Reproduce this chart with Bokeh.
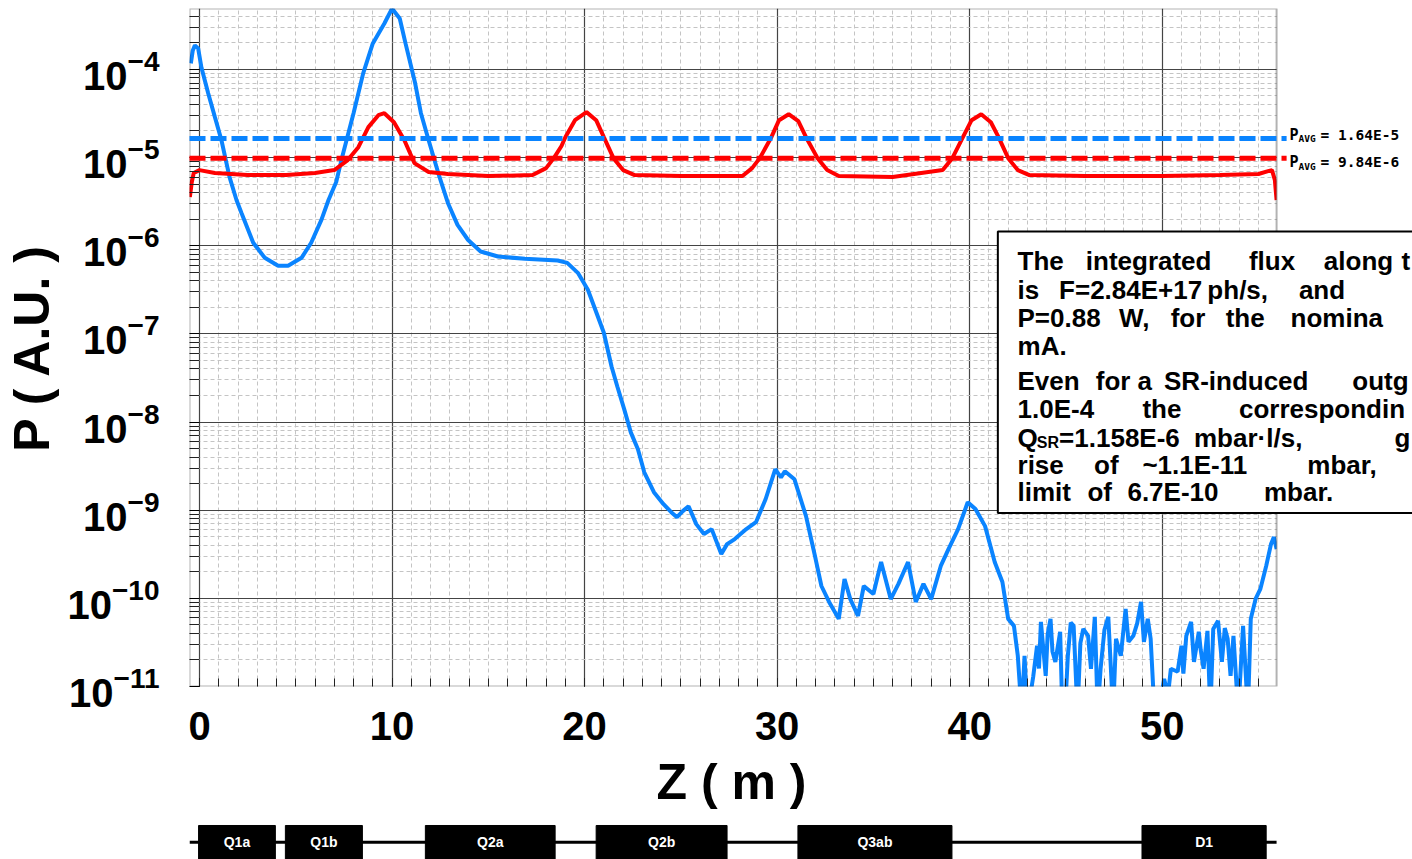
from bokeh.plotting import figure
from bokeh.models import (Range1d, FixedTicker, LogTickFormatter,
                          Label, BoxAnnotation)
from bokeh.layouts import column
from bokeh.embed import file_html
from bokeh.resources import INLINE
from bokeh.core.properties import value

# ---------------- data ----------------
blue_z = [-0.45, -0.35, -0.24, -0.07, 0.1, 0.45, 0.8, 1.14, 1.56, 1.92, 2.18, 2.79, 3.39, 4.08, 4.6,
          5.3, 5.8, 6.33, 6.7, 7.1, 7.37, 8.0, 8.5, 9.0, 9.6, 10.0, 10.4, 10.7, 11.2, 11.5, 11.9,
          12.4, 12.9, 13.4, 13.95, 14.6, 15.5, 16.9, 18.6, 19.1, 19.65, 20.17, 20.5, 21.0, 21.4,
          21.7, 22.06, 22.4, 22.77, 23.1, 23.6, 24.1, 24.5, 24.8, 25.1, 25.4, 25.8, 26.2, 26.6,
          27.1, 27.4, 27.8, 28.4, 28.9, 29.4, 29.9, 30.2, 30.4, 30.9, 31.5, 32.0, 32.3, 32.7,
          33.2, 33.5, 33.8, 34.2, 34.5, 35.0, 35.4, 35.9, 36.3, 36.8, 37.2, 37.6, 38.0, 38.5,
          38.9, 39.4, 39.9, 40.3, 40.8, 41.3, 41.7, 42.0, 42.3, 42.5, 42.7, 42.85, 43.0, 43.15,
          43.3, 43.5, 43.6, 43.7, 43.95, 44.05, 44.2, 44.3, 44.45, 44.7, 44.8, 44.95, 45.1, 45.25,
          45.4, 45.6, 45.75, 45.9, 46.15, 46.3, 46.5, 46.65, 46.8, 47.0, 47.2, 47.45, 47.6, 47.85,
          48.1, 48.25, 48.5, 48.7, 48.9, 49.05, 49.25, 49.4, 49.6, 49.8, 50.1, 50.3, 50.45, 50.8,
          51.0, 51.1, 51.25, 51.5, 51.65, 51.9, 52.0, 52.15, 52.35, 52.5, 52.65, 52.9, 53.1,
          53.25, 53.4, 53.55, 53.7, 53.95, 54.2, 54.45, 54.6, 54.85, 55.1, 55.4, 55.65, 55.8,
          55.94]
blue_p = [1.17e-4, 1.64e-4, 1.87e-4, 1.73e-4, 1.05e-4, 5.36e-5, 2.87e-5, 1.57e-5, 6.0e-6, 3.3e-6,
          2.35e-6, 1.08e-6, 7.28e-7, 5.91e-7, 5.91e-7, 7.28e-7, 1.08e-6, 1.96e-6, 3.3e-6, 5.27e-6,
          9.35e-6, 3.18e-5, 9.0e-5, 1.97e-4, 3.31e-4, 4.9e-4, 3.78e-4, 1.97e-4, 6.95e-5, 3.18e-5,
          1.57e-5, 6.67e-6, 3.05e-6, 1.72e-6, 1.16e-6, 8.58e-7, 7.53e-7, 7.1e-7, 6.78e-7, 6.38e-7,
          4.92e-7, 3.16e-7, 2.03e-7, 1.03e-7, 4.26e-8, 2.53e-8, 1.39e-8, 7.63e-9, 4.9e-9, 2.69e-9,
          1.6e-9, 1.17e-9, 9.5e-10, 8.33e-10, 9.75e-10, 1.11e-9, 6.95e-10, 5.36e-10, 6.1e-10,
          3.18e-10, 4.12e-10, 4.7e-10, 6.1e-10, 7.31e-10, 1.33e-9, 2.91e-9, 2.36e-9, 2.76e-9,
          2.24e-9, 8.55e-10, 2.79e-10, 1.38e-10, 9.1e-11, 5.85e-11, 1.66e-10, 9.8e-11, 6.33e-11,
          1.38e-10, 1.12e-10, 2.58e-10, 9.8e-11, 1.46e-10, 2.58e-10, 9.1e-11, 1.46e-10, 9.8e-11,
          2.33e-10, 3.62e-10, 6.1e-10, 1.23e-9, 1.03e-9, 6.59e-10, 2.58e-10, 1.53e-10, 5.85e-11,
          4.87e-11, 2.23e-11, 5e-12, 2.23e-11, 5e-12, 8e-12,
          1.29e-11, 2.9e-11, 1.6e-11, 5.41e-11, 1.32e-11, 3.9e-11,
          5.85e-11, 2.5e-11, 1.9e-11, 4.17e-11, 6.5e-12, 5e-12, 2.23e-11, 5.3e-11,
          4.87e-11, 5e-12, 3.1e-11, 4.5e-11, 3.76e-11, 1.59e-11, 6.16e-11, 5e-12, 1.59e-11, 4.4e-11,
          6.16e-11, 5e-12, 3.47e-11, 2.23e-11, 7.59e-11, 3.21e-11, 3.76e-11, 5.2e-11, 9.1e-11,
          3.21e-11, 5.85e-11, 3.47e-11, 5e-12, 5e-12, 1.22e-11, 8e-12, 1.59e-11, 1.47e-11,
          2.9e-11, 1.4e-11, 3.76e-11, 5.41e-11, 1.9e-11, 4.17e-11, 2.6e-11, 1.59e-11, 4.27e-11,
          5e-12, 4.5e-11, 5.55e-11, 1.9e-11, 4.6e-11, 3.47e-11, 1.32e-11, 3.76e-11, 5e-12,
          4.87e-11, 5e-12, 5.85e-11, 9.84e-11, 1.28e-10, 2.33e-10, 4.12e-10, 4.95e-10, 3.62e-10]

red_z = [-0.5, -0.4, -0.3, 0.0, 0.8, 2.5, 4.5, 6.0, 7.0, 7.7, 8.25, 8.77, 9.29, 9.6, 10.1, 10.64,
         11.16, 11.9, 12.9, 15.0, 17.3, 18.0, 18.4, 18.8, 19.0, 19.5, 20.1, 20.6, 21.0, 21.5,
         22.0, 22.6, 25.0, 28.2, 28.7, 29.1, 29.7, 30.1, 30.6, 31.1, 31.5, 32.1, 32.6, 33.2,
         36.0, 38.6, 39.1, 39.65, 40.1, 40.6, 41.1, 41.5, 42.0, 42.5, 43.1, 46.0, 50.0, 53.0,
         55.0, 55.5, 55.7, 55.85, 55.94]
red_p = [3.56e-6, 5.27e-6, 6.67e-6, 7.2e-6, 6.67e-6, 6.32e-6, 6.32e-6, 6.67e-6, 7.2e-6, 9.35e-6,
         1.31e-5, 2.21e-5, 3.02e-5, 3.18e-5, 2.51e-5, 1.57e-5, 8.65e-6, 6.84e-6, 6.5e-6, 6.16e-6,
         6.32e-6, 7.58e-6, 9.84e-6, 1.35e-5, 1.7e-5, 2.65e-5, 3.27e-5, 2.65e-5, 1.7e-5, 9.84e-6,
         7.2e-6, 6.32e-6, 6.16e-6, 6.16e-6, 7.58e-6, 9.84e-6, 1.7e-5, 2.65e-5, 3.1e-5, 2.58e-5,
         1.7e-5, 9.84e-6, 7.2e-6, 6.16e-6, 6.0e-6, 7.2e-6, 9.84e-6, 1.7e-5, 2.65e-5, 3.1e-5,
         2.51e-5, 1.7e-5, 9.84e-6, 7.2e-6, 6.32e-6, 6.16e-6, 6.16e-6, 6.32e-6, 6.5e-6, 7.01e-6,
         7.2e-6, 5.55e-6, 3.3e-6]

avg_values = [1.64e-5, 9.84e-6]
avg_texts = ["1.64E-5", "9.84E-6"]

x_ticks = [0, 10, 20, 30, 40, 50]
x_minor = list(range(0, 56))
y_ticks = [1e-11, 1e-10, 1e-9, 1e-8, 1e-7, 1e-6, 1e-5, 1e-4]

magnet_names = ["Q1a", "Q1b", "Q2a", "Q2b", "Q3ab", "D1"]
magnet_start = [-0.05, 4.46, 11.73, 20.6, 31.08, 48.95]
magnet_end = [3.94, 8.46, 18.47, 27.4, 39.08, 55.4]

note_lines = [
    ["The", "integrated", "flux", "along", "t"],
    ["is", "F=2.84E+17", "ph/s,", "and"],
    ["P=0.88", "W,", "for", "the", "nomina"],
    ["mA."],
    ["Even", "for", "a", "SR-induced", "outg"],
    ["1.0E-4", "the", "correspondin"],
    ["Q", "=1.158E-6", "mbar\u00b7l/s,", "g"],
    ["rise", "of", "~1.1E-11", "mbar,"],
    ["limit", "of", "6.7E-10", "mbar."],
]

# ---------------- layout helpers (page pixels -> data coords) ----------------
X0_PX, PX_PER_M = 198.0, 19.27
Y4_PX, PX_PER_DEC = 69.0, 88.42
X_LO, X_FRAME_HI = -0.52, 55.94


def px2x(px):
    return (px - X0_PX) / PX_PER_M


def py2y(py):
    return 10 ** (-4 - (py - Y4_PX) / PX_PER_DEC)


FONT = "Liberation Sans"
BLUE = "#0A84FF"
RED = "#FF0000"
NBSP = "\u00a0"

W = 1412
xr = Range1d(X_LO, px2x(W))
p = figure(width=W, height=812, x_range=xr,
           y_range=Range1d(1e-11, 4.9e-4), y_axis_type="log",
           output_backend="svg", toolbar_location=None,
           min_border_left=188, min_border_right=0, min_border_top=8, min_border_bottom=124)
p.background_fill_color = "white"
p.border_fill_color = "white"
p.outline_line_color = None

xt = FixedTicker(ticks=x_ticks, minor_ticks=x_minor)
p.xaxis.ticker = xt
p.xgrid.ticker = xt
minor_y = [m * 10.0 ** e for e in range(-11, -3) for m in range(2, 10)]
yt = FixedTicker(ticks=y_ticks, minor_ticks=minor_y)
p.yaxis.ticker = yt
p.ygrid.ticker = yt
p.yaxis.formatter = LogTickFormatter()

for g in (p.xgrid, p.ygrid):
    g.grid_line_color = "#444444"
    g.grid_line_width = 1.2
    g.minor_grid_line_color = "#c4c4c4"
    g.minor_grid_line_dash = "4 3"
    g.minor_grid_line_width = 1

for ax in (p.xaxis, p.yaxis):
    ax.axis_line_color = None
    ax.major_tick_out = 0
    ax.minor_tick_out = 0
    ax.major_tick_line_color = "black"
    ax.minor_tick_line_color = "#222222"
    ax.major_label_text_font = FONT
    ax.major_label_text_font_style = "bold"
    ax.major_label_text_color = "black"
    ax.axis_label_text_font = FONT
    ax.axis_label_text_font_style = "bold"
    ax.axis_label_text_color = "black"

p.xaxis.bounds = (X_LO, X_FRAME_HI)
p.xaxis.major_tick_in = 8
p.xaxis.minor_tick_in = 8
p.yaxis.major_tick_in = 10
p.yaxis.minor_tick_in = 10
p.xaxis.major_label_text_font_size = "40px"
p.yaxis.major_label_text_font_size = "40px"
# the figure's frame runs to the page edge, so pad the label on the right
# to centre it under the plotting area
p.xaxis.axis_label = "Z ( m )" + NBSP * 10
p.yaxis.axis_label = "P ( A.U. )"
p.xaxis.axis_label_text_font_size = "50px"
p.yaxis.axis_label_text_font_size = "50px"
p.xaxis.major_label_standoff = 25
p.yaxis.major_label_standoff = 30
p.xaxis.axis_label_standoff = 11
p.yaxis.axis_label_standoff = 5

# curves
p.line(blue_z, blue_p, line_color=BLUE, line_width=4)
p.line(red_z, red_p, line_color=RED, line_width=4)

# white area to the right of the plotting frame, then the frame outline
p.add_layout(BoxAnnotation(left=X_FRAME_HI, fill_color="white", fill_alpha=1.0,
                           line_color=None, level="guide"))
p.add_layout(BoxAnnotation(left=X_LO, right=X_FRAME_HI, fill_alpha=0.0, fill_color=None,
                           line_color="black", line_width=2, level="guide"))

# note box (its right side runs off the page)
p.quad(left=px2x(997), right=px2x(1600), top=py2y(231.5), bottom=py2y(514),
       fill_color="white", line_color="black", line_width=2, level="annotation")

# average lines + labels
for val, txt, col, dy in zip(avg_values, avg_texts, [BLUE, RED], [4, -4]):
    p.segment(x0=[X_LO], y0=[val], x1=[px2x(1286)], y1=[val], line_color=col, line_width=5,
              line_dash="16 5", level="overlay")
    common = dict(y=val, text_baseline="middle", text_color="black",
                  text_font="DejaVu Sans Mono", text_font_style="bold", level="overlay")
    p.add_layout(Label(x=px2x(1289), y_offset=dy, text="P", text_font_size="15px", **common))
    p.add_layout(Label(x=px2x(1298), y_offset=dy - 4, text="AVG", text_font_size="9.5px",
                       **common))
    p.add_layout(Label(x=px2x(1320), y_offset=dy, text=" = " + txt, text_font_size="14.5px",
                       **common))

line_base_py = [261.7, 290, 318.3, 346.7, 382, 410, 438.3, 465.5, 493.3]
word_px = [
    [1016.7, 1085, 1248.3, 1323.3, 1401],
    [1016.7, 1058.3, 1206.7, 1298.3],
    [1016.7, 1118.3, 1170, 1225, 1290],
    [1016.7],
    [1016.7, 1095, 1136.7, 1163.3, 1351.7],
    [1016.7, 1141.7, 1238.3],
    [1016.7, 1058.3, 1193.3, 1394],
    [1016.7, 1093.3, 1141.7, 1306.7],
    [1016.7, 1086.7, 1126.7, 1263.3],
]
for words, pxs, by in zip(note_lines, word_px, line_base_py):
    for w, wx in zip(words, pxs):
        p.add_layout(Label(x=px2x(wx), y=py2y(by), text=w, text_font=FONT,
                           text_font_style="bold", text_font_size="26px",
                           text_color="black", text_baseline="alphabetic", level="overlay"))
p.add_layout(Label(x=px2x(1036), y=py2y(443.5), text="SR", text_font=FONT,
                   text_font_style="bold", text_font_size="16px", text_color="black",
                   text_baseline="alphabetic", level="overlay"))

# ---------------- magnet layout strip ----------------
p2 = figure(width=W, height=47, x_range=xr, y_range=Range1d(-1.036, 1.778),
            output_backend="svg", toolbar_location=None,
            x_axis_location=None, y_axis_location=None,
            min_border_left=188, min_border_right=0, min_border_top=0, min_border_bottom=0)
p2.grid.visible = False
p2.outline_line_color = None
p2.background_fill_color = "white"
p2.border_fill_color = "white"
p2.segment(x0=[X_LO], y0=[0], x1=[X_FRAME_HI], y1=[0], line_color="black", line_width=3)
p2.quad(left=magnet_start, right=magnet_end, bottom=-3, top=1, fill_color="black",
        line_color="black")
centers = [(a + b) / 2 for a, b in zip(magnet_start, magnet_end)]
p2.text(x=centers, y=[0] * len(centers), text=magnet_names, text_color="white",
        text_font=value(FONT), text_font_style="bold", text_font_size="14px",
        text_align="center", text_baseline="middle")

layout = column(p, p2, spacing=0)
open("out.html", "w").write(file_html(layout, INLINE))
